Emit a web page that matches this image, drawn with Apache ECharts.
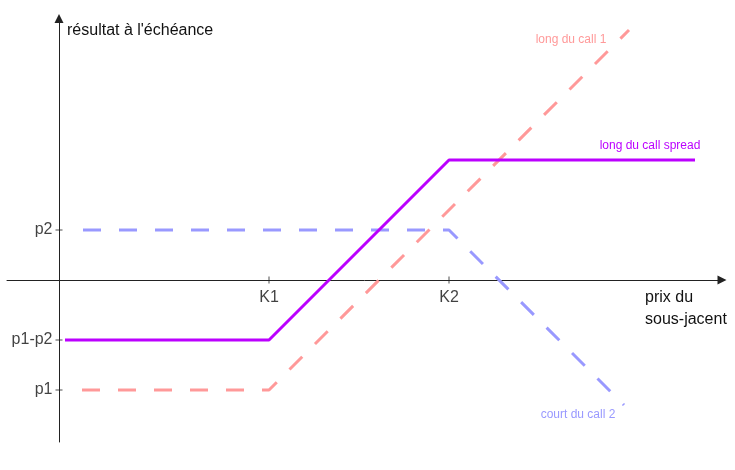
<!DOCTYPE html>
<html>
<head>
<meta charset="utf-8">
<script src="https://cdn.jsdelivr.net/npm/echarts@6/dist/echarts.min.js"></script>
<style>html,body{margin:0;padding:0;background:#fff;}#c{width:735px;height:470px;}</style>
</head>
<body>
<div id="c"></div>
<script>
// Key levels (abstract units)
const K1 = 21, K2 = 39;
const p1 = -11, p2 = 5, p1p2 = -6;
const xTickValues = [K1, K2];
const xTickLabels = ['K1', 'K2'];
const yTickValues = [p2, p1p2, p1];
const yTickLabels = ['p2', 'p1-p2', 'p1'];

// Payoff lines
const longCall1 = [[2.3, -11], [21, -11], [57, 25]];
const shortCall2 = [[2.4, 5], [39, 5], [56.5, -12.5]];
const callSpread = [[0.6, -6], [21, -6], [39, 12], [63.6, 12]];

const seriesNames = ['long du call 1', 'court du call 2', 'long du call spread'];

const FONT = 'Liberation Sans, Arial, sans-serif';
const AX = '#222';

const chart = echarts.init(document.getElementById('c'), null, {renderer: 'canvas'});
const tickLabelStyle = {color: '#111', fontSize: 16, fontFamily: FONT};

chart.setOption({
  animation: false,
  grid: {left: 7, right: 13, top: 18.5, bottom: 28, containLabel: false, outerBoundsMode: 'none'},
  xAxis: {
    type: 'value', min: -5.2, max: 66.3,
    axisLine: {show: true, onZero: true, symbol: ['none', 'triangle'], symbolSize: [9, 9], lineStyle: {color: AX, width: 1}},
    axisTick: {show: false},
    splitLine: {show: false},
    axisLabel: {show: false},
    name: 'prix du\nsous-jacent', nameLocation: 'end', nameGap: -77,
    nameTextStyle: {align: 'left', verticalAlign: 'top', color: '#111', fontSize: 16, fontFamily: FONT, lineHeight: 22, padding: [7, 0, 0, 0]}
  },
  yAxis: {
    type: 'value', min: -16.2, max: 26.15,
    axisLine: {show: true, onZero: true, symbol: ['none', 'triangle'], symbolSize: [9, 9], lineStyle: {color: AX, width: 1}},
    axisTick: {show: false},
    splitLine: {show: false},
    axisLabel: {show: false},
    name: "résultat à l'échéance", nameLocation: 'end', nameGap: -12.5,
    nameTextStyle: {align: 'left', verticalAlign: 'middle', color: '#111', fontSize: 16, fontFamily: FONT, padding: [0, 0, 0, 8]}
  },
  series: [
    {
      name: seriesNames[0], type: 'line', data: longCall1, showSymbol: false, silent: true,
      lineStyle: {color: '#ff9999', width: 3, type: [18, 18]},
      endLabel: {show: true, formatter: seriesNames[0], color: '#ff9999', fontSize: 12, fontFamily: FONT, align: 'center', verticalAlign: 'middle', distance: 0, offset: [-58, 10]}
    },
    {
      name: seriesNames[1], type: 'line', data: shortCall2, showSymbol: false, silent: true,
      lineStyle: {color: '#9999ff', width: 3, type: [18, 18]},
      endLabel: {show: true, formatter: seriesNames[1], color: '#9999ff', fontSize: 12, fontFamily: FONT, align: 'center', verticalAlign: 'middle', distance: 0, offset: [-46, 10]}
    },
    {
      name: seriesNames[2], type: 'line', data: callSpread, showSymbol: false, silent: true,
      lineStyle: {color: '#bb00ff', width: 3},
      endLabel: {show: true, formatter: seriesNames[2], color: '#bb00ff', fontSize: 12, fontFamily: FONT, align: 'center', verticalAlign: 'middle', distance: 0, offset: [-45, -14]}
    },
    {
      type: 'scatter', silent: true, symbol: 'rect', symbolSize: [1, 7], itemStyle: {color: AX},
      data: xTickValues.map((v, i) => ({value: [v, 0], name: xTickLabels[i]})), z: 5,
      label: Object.assign({show: true, position: 'bottom', distance: 6, formatter: '{b}'}, tickLabelStyle)
    },
    {
      type: 'scatter', silent: true, symbol: 'rect', symbolSize: [7, 1], itemStyle: {color: AX},
      data: yTickValues.map((v, i) => ({value: [0, v], name: yTickLabels[i]})), z: 5,
      label: Object.assign({show: true, position: 'left', distance: 3, formatter: '{b}'}, tickLabelStyle)
    }
  ]
});
</script>
</body>
</html>
